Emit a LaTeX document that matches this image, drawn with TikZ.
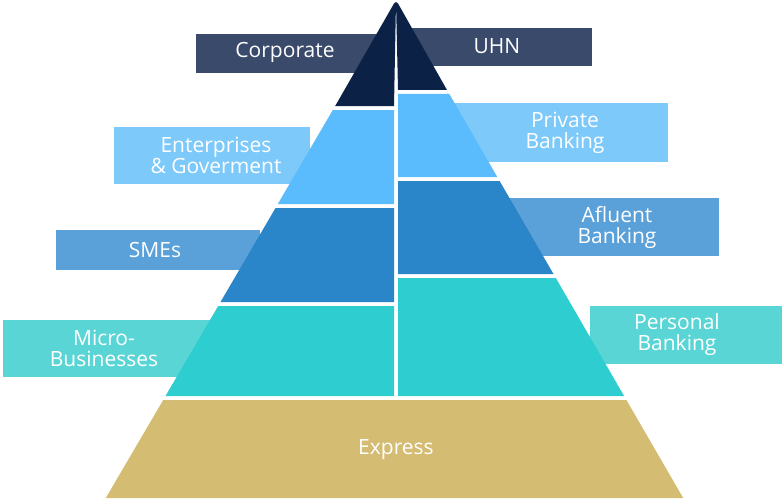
\documentclass[tikz,border=0pt]{standalone}
\usepackage{fontspec}
\setmainfont{Open Sans}
\definecolor{navyL}{HTML}{3A4A6B}\definecolor{navy}{HTML}{0B2246}
\definecolor{skyL}{HTML}{7DC9FA}\definecolor{sky}{HTML}{5BBCFD}
\definecolor{midL}{HTML}{5AA0D9}\definecolor{mid}{HTML}{2A85C9}
\definecolor{tealL}{HTML}{5AD5D6}\definecolor{teal}{HTML}{2ECDCF}
\definecolor{gold}{HTML}{D5BC73}
\tikzset{lbl/.style={text=white,font=\fontsize{21}{25}\selectfont,align=center,inner sep=0pt}}
\begin{document}
\begin{tikzpicture}[x=1pt,y=-1pt]
\useasboundingbox (0,0) rectangle (783,500);
% label bars
\fill[navyL] (196,34) rectangle (394,73);
\fill[navyL] (398,28) rectangle (592,66);
\fill[skyL] (114,127) rectangle (310,184);
\fill[skyL] (450,103) rectangle (668,162);
\fill[midL] (56,230) rectangle (260,270);
\fill[midL] (500,198) rectangle (719,256);
\fill[tealL] (3,320) rectangle (210,377);
\fill[tealL] (590,306) rectangle (782,364);
% pyramid left
\fill[navy] (396,2) -- (394,3.5) -- (335.2,106) -- (394,106) -- cycle;
\fill[sky] (332.8,110) -- (394,110) -- (394,204) -- (277.8,204) -- cycle;
\fill[mid] (275.5,208) -- (394,208) -- (394,302) -- (220.5,302) -- cycle;
\fill[teal] (218.2,306) -- (394,306) -- (394,396) -- (165.5,396) -- cycle;
% pyramid right
\fill[navy] (396,2) -- (398,3.5) -- (447,90) -- (398,90) -- cycle;
\fill[sky] (398,94) -- (449.3,94) -- (497.3,177) -- (398,177) -- cycle;
\fill[mid] (398,181) -- (499.6,181) -- (553.5,274) -- (398,274) -- cycle;
\fill[teal] (398,278) -- (555.8,278) -- (624.1,396) -- (398,396) -- cycle;
\fill[gold] (163.2,400) -- (626.4,400) -- (683.2,498) -- (105.8,498) -- cycle;
% texts
\node[lbl] (corp) at (285,52) {Corporate};
\node[lbl] (uhn) at (497,46) {UHN};
\node[lbl] (ent) at (216,155) {Enterprises\\[-4pt]\& Goverment};
\node[lbl] (priv) at (565,133) {Private\\[-4pt]Banking};
\node[lbl] (sme) at (155,250) {SMEs};
\node[lbl] (afl) at (617,227) {Afluent\\[-4pt]Banking};
\node[lbl] (micro) at (104,348) {Micro-\\[-4pt]Businesses};
\node[lbl] (pers) at (677,335) {Personal\\[-4pt]Banking};
\node[lbl] (exp) at (396,450) {Express};
\end{tikzpicture}
\end{document}
